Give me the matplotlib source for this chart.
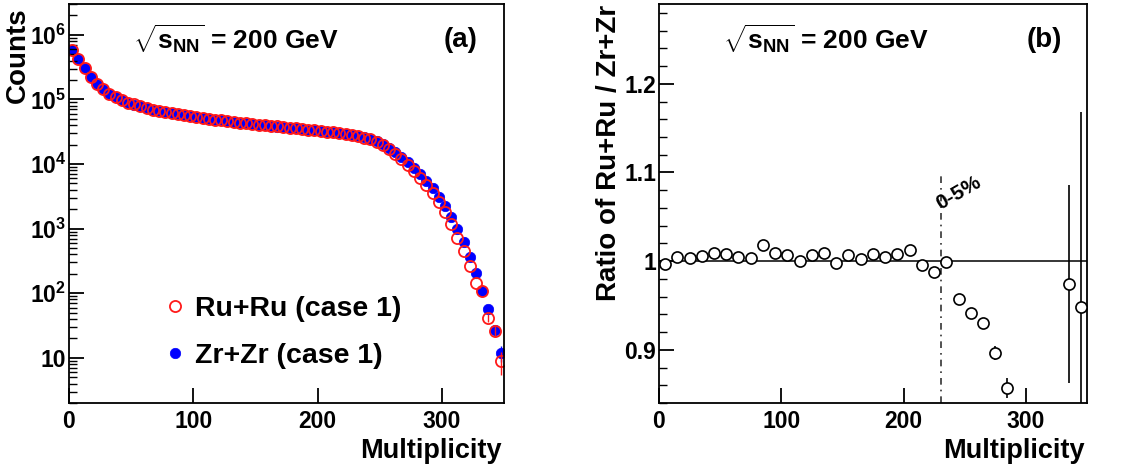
import numpy as np
import matplotlib
matplotlib.use('Agg')
import matplotlib.pyplot as plt
from matplotlib.lines import Line2D
from matplotlib.ticker import FixedLocator, NullFormatter, MultipleLocator

plt.rcParams['font.family'] = ['Liberation Sans', 'DejaVu Sans']
plt.rcParams['mathtext.fontset'] = 'custom'
plt.rcParams['mathtext.rm'] = 'Liberation Sans:bold'
plt.rcParams['mathtext.bf'] = 'Liberation Sans:bold'
plt.rcParams['mathtext.it'] = 'Liberation Sans:bold'

# panel (a): multiplicity distributions, bins of 5
mult = np.arange(2.5, 350, 5)
zr_counts = [575000, 417000, 302000, 224000, 174000, 145000, 123000, 110000, 98000, 89000,
             83000, 78000, 73300, 69200, 66100, 63100, 61000, 58900, 56900, 55000,
             53100, 51300, 50100, 48400, 47300, 45700, 44700, 43600, 42700, 41700,
             40700, 39800, 38900, 38000, 37200, 36300, 35500, 34700, 33900, 33100,
             32400, 31600, 30900, 30200, 29200, 28200, 27200, 26000, 24500, 22600,
             20400, 17800, 15300, 12900, 10700, 8700, 7000, 5500, 4200, 3130,
             2240, 1530, 1000, 620, 360, 205, 110, 58, 27, 12]
ru_counts = [573000, 419000, 303000, 225000, 175000, 146000, 123500, 110500, 98800, 89600,
             83500, 78400, 73600, 69500, 66800, 63500, 61500, 59200, 57200, 55300,
             53400, 51500, 50200, 48700, 47600, 46000, 44800, 43700, 43000, 41900,
             40900, 40000, 39000, 38200, 37500, 36500, 35600, 34900, 34000, 33300,
             32800, 31800, 31000, 30300, 29000, 27800, 26900, 25700, 24000, 21900,
             19500, 16800, 14300, 12000, 9800, 7850, 6170, 4730, 3550, 2570,
             1780, 1170, 720, 450, 265, 145, 107, 42, 26, 9]
zr_err = [0] * 67 + [7, 5, 3.5]
ru_err = [0] * 67 + [6, 5, 3.5]

# panel (b): ratio, bins of 10
ratio_x = [5, 15, 25, 35, 45, 55, 65, 75, 85, 95, 105, 115, 125, 135, 145, 155, 165, 175,
           185, 195, 205, 215, 225, 235, 245, 255, 265, 275, 285, 335, 345]
ratio_y = [0.997, 1.005, 1.003, 1.006, 1.009, 1.008, 1.005, 1.003, 1.018, 1.009, 1.007,
           1.000, 1.007, 1.009, 0.998, 1.007, 1.002, 1.008, 1.005, 1.008, 1.013, 0.996,
           0.988, 0.999, 0.957, 0.941, 0.930, 0.896, 0.857, 0.974, 0.948]
ratio_err = [0.001, 0.001, 0.001, 0.001, 0.001, 0.001, 0.001, 0.001, 0.001, 0.001, 0.001,
             0.001, 0.001, 0.001, 0.001, 0.001, 0.001, 0.001, 0.001, 0.001, 0.001, 0.002,
             0.002, 0.003, 0.004, 0.004, 0.005, 0.008, 0.011, 0.112, 0.22]
cut_0_5 = 231

fig = plt.figure(figsize=(11.48, 4.72), dpi=100)
ax1 = fig.add_axes([0.0601, 0.1462, 0.3789, 0.8453])
ax2 = fig.add_axes([0.5740, 0.1462, 0.3728, 0.8453])

ax1.errorbar(mult, ru_counts, yerr=ru_err, fmt='o', mfc='none', mec='#ff1a1a', ecolor='#ff1a1a',
             ms=8, mew=1.3, elinewidth=1, zorder=2)
ax1.errorbar(mult, zr_counts, yerr=zr_err, fmt='o', mfc='#0000ff', mec='#0000ff', ecolor='#0000ff',
             ms=7.5, mew=0.5, elinewidth=1, zorder=1)
ax1.set_yscale('log')
ax1.set_xlim(0, 350)
ax1.set_ylim(2, 3e6)
ax1.yaxis.set_major_locator(FixedLocator([10, 1e2, 1e3, 1e4, 1e5, 1e6]))
ax1.set_yticklabels(['10', r'$10^{2}$', r'$10^{3}$', r'$10^{4}$', r'$10^{5}$', r'$10^{6}$'])
ax1.yaxis.set_minor_locator(FixedLocator([m * 10.0 ** e for e in range(0, 7) for m in range(2, 10)]))
ax1.yaxis.set_minor_formatter(NullFormatter())
ax1.set_xticks([0, 100, 200, 300])
ax1.text(0.147, 0.91, r'$\sqrt{s_{NN}}$ = 200 GeV', transform=ax1.transAxes, fontsize=19,
         fontweight='bold', va='center')
ax1.text(0.90, 0.91, '(a)', transform=ax1.transAxes, fontsize=20, fontweight='bold',
         va='center', ha='center')
handles = [Line2D([], [], ls='none', marker='o', mfc='none', mec='#ff1a1a', ms=8, mew=1.3),
           Line2D([], [], ls='none', marker='o', mfc='#0000ff', mec='#0000ff', ms=7.5, mew=0.5)]
ax1.legend(handles, ['Ru+Ru (case 1)', 'Zr+Zr (case 1)'], loc='lower left',
           bbox_to_anchor=(0.185, 0.05), frameon=False,
           prop={'weight': 'bold', 'size': 20.5},
           handletextpad=0.3, labelspacing=0.72, handlelength=0.8, borderpad=0)

ax2.errorbar(ratio_x, ratio_y, yerr=ratio_err, fmt='o', mfc='white', mec='black', ecolor='black',
             ms=8, mew=1.2, elinewidth=1.2, zorder=3)
ax2.axhline(1.0, color='black', lw=1.1, zorder=1)
ax2.plot([cut_0_5, cut_0_5], [0.84, 1.1], color='#333333', lw=1.2, ls=(0, (4, 3, 1, 3)), zorder=1)
ax2.text(cut_0_5 + 0.5, 1.054, '0-5%', fontsize=15, fontweight='bold', rotation=30,
         ha='left', va='bottom', rotation_mode='anchor')
ax2.set_xlim(0, 350)
ax2.set_ylim(0.84, 1.29)
ax2.set_xticks([0, 100, 200, 300])
ax2.set_yticks([0.9, 1.0, 1.1, 1.2])
ax2.set_yticklabels(['0.9', '1', '1.1', '1.2'])
ax2.yaxis.set_minor_locator(MultipleLocator(0.02))
ax2.text(0.15, 0.91, r'$\sqrt{s_{NN}}$ = 200 GeV', transform=ax2.transAxes, fontsize=19,
         fontweight='bold', va='center')
ax2.text(0.90, 0.91, '(b)', transform=ax2.transAxes, fontsize=20, fontweight='bold',
         va='center', ha='center')

# axis titles placed like the ROOT layout (top / right aligned)
fig.text(0.0157, 0.985, 'Counts', rotation=90, ha='center', va='top', fontsize=20, fontweight='bold')
fig.text(0.5305, 0.989, 'Ratio of Ru+Ru / Zr+Zr', rotation=90, ha='center', va='top',
         fontsize=20, fontweight='bold')
fig.text(0.437, 0.045, 'Multiplicity', ha='right', va='center', fontsize=19.5, fontweight='bold')
fig.text(0.945, 0.045, 'Multiplicity', ha='right', va='center', fontsize=19.5, fontweight='bold')

for ax in (ax1, ax2):
    for sp in ax.spines.values():
        sp.set_linewidth(1.3)
    ax.tick_params(which='major', direction='in', length=11, width=1.3, labelsize=16.5,
                   top=False, right=False, pad=5)
    ax.tick_params(which='minor', direction='in', length=5.5, width=1, top=False, right=False)
    ax.tick_params(axis='y', which='major', pad=2)
    for lab in ax.get_xticklabels() + ax.get_yticklabels():
        lab.set_fontweight('bold')

fig.savefig('out.png', dpi=100)
